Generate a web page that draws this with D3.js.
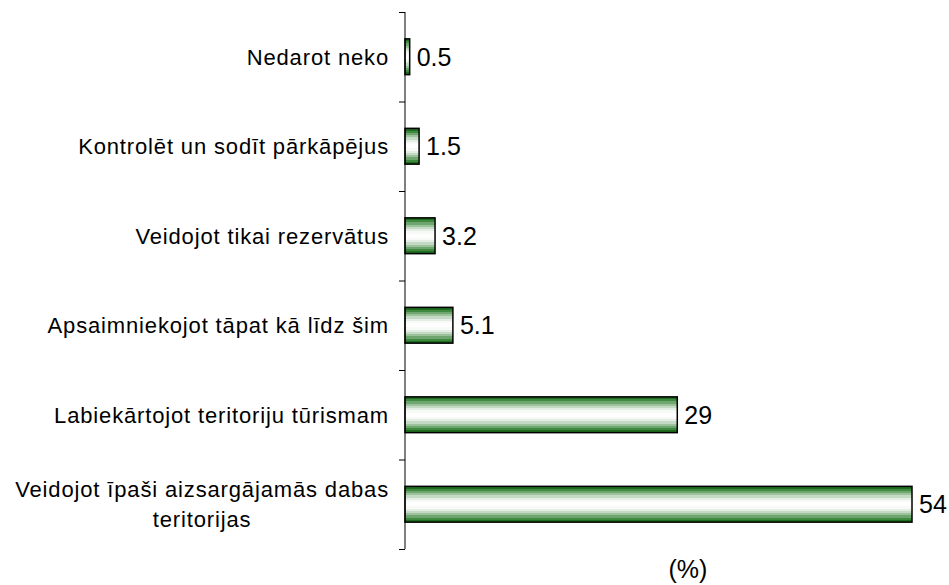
<!DOCTYPE html>
<html>
<head>
<meta charset="utf-8">
<script src="https://cdn.jsdelivr.net/npm/d3@7"></script>
<style>
  body { margin: 0; background: #fff; }
  text { font-family: "Liberation Sans", Arial, sans-serif; }
</style>
</head>
<body>
<svg id="chart" width="949" height="585"></svg>
<script>
// data (top to bottom)
var categories = [
  ["Nedarot neko"],
  ["Kontrolēt un sodīt pārkāpējus"],
  ["Veidojot tikai rezervātus"],
  ["Apsaimniekojot tāpat kā līdz šim"],
  ["Labiekārtojot teritoriju tūrismam"],
  ["Veidojot īpaši aizsargājamās dabas", "teritorijas"]
];
var values = [0.5, 1.5, 3.2, 5.1, 29, 54];
var valueLabels = ["0.5", "1.5", "3.2", "5.1", "29", "54"];

var svg = d3.select("#chart");
var axisX = 405, plotTop = 12, plotBottom = 549;

var x = d3.scaleLinear().domain([0, 54]).range([axisX, 912]);
var y = d3.scaleBand().domain(d3.range(categories.length)).range([plotTop, plotBottom]).paddingInner(0.6).paddingOuter(0.3);

// stepped green gradient across the bar height
var grad = svg.append("defs").append("linearGradient")
  .attr("id", "barGrad").attr("x1", 0).attr("y1", 0).attr("x2", 0).attr("y2", 1);
var steps = ["#1f6b1f", "#3f8a3f", "#6fa66f", "#9cc29c", "#c4dac4", "#e4eee4", "#f7faf7", "#ffffff"];
var all = steps.concat(steps.slice().reverse());
all.forEach(function(c, i) {
  grad.append("stop").attr("offset", i / all.length).attr("stop-color", c);
  grad.append("stop").attr("offset", (i + 1) / all.length).attr("stop-color", c);
});

// bars
svg.selectAll("rect.bar").data(values).enter().append("rect")
  .attr("class", "bar")
  .attr("x", x(0))
  .attr("y", function(d, i) { return y(i); })
  .attr("width", function(d) { return x(d) - x(0); })
  .attr("height", y.bandwidth())
  .attr("fill", "url(#barGrad)")
  .attr("stroke", "#000")
  .attr("stroke-width", 1.5);

// value labels
svg.selectAll("text.val").data(values).enter().append("text")
  .attr("class", "val")
  .attr("x", function(d) { return x(d) + 7; })
  .attr("y", function(d, i) { return y(i) + y.bandwidth() / 2; })
  .attr("dy", "0.36em")
  .attr("font-size", 25)
  .text(function(d, i) { return valueLabels[i]; });

// axis: vertical line with ticks between categories
var axisScale = d3.scaleLinear().domain([0, categories.length]).range([plotTop, plotBottom]);
var axis = d3.axisLeft(axisScale).ticks(categories.length).tickSize(6).tickFormat("");
svg.append("g").attr("transform", "translate(" + axisX + ",0)").call(axis)
  .call(function(g) {
    g.select(".domain").attr("d", "M0," + plotTop + "V" + plotBottom).attr("stroke", "#000");
    g.selectAll(".tick line").attr("stroke", "#000");
  });

// category labels
var labels = svg.selectAll("g.lab").data(categories).enter().append("g").attr("class", "lab");
labels.each(function(lines, i) {
  var g = d3.select(this);
  var cy = y(i) + y.bandwidth() / 2;
  var lh = 30;
  var t = g.append("text").attr("font-size", 22).attr("letter-spacing", 0.85).attr("text-anchor", "middle");
  lines.forEach(function(l, j) {
    t.append("tspan").attr("x", 0)
      .attr("y", cy + (j - (lines.length - 1) / 2) * lh)
      .attr("dy", "0.36em").text(l);
  });
  var w = d3.max(t.selectAll("tspan").nodes(), function(n) { return n.getComputedTextLength(); });
  t.attr("transform", "translate(" + (389 - w / 2) + ",0)");
});

// unit label
svg.append("text").attr("x", 688).attr("y", 578).attr("text-anchor", "middle")
  .attr("font-size", 25).text("(%)");
</script>
</body>
</html>
